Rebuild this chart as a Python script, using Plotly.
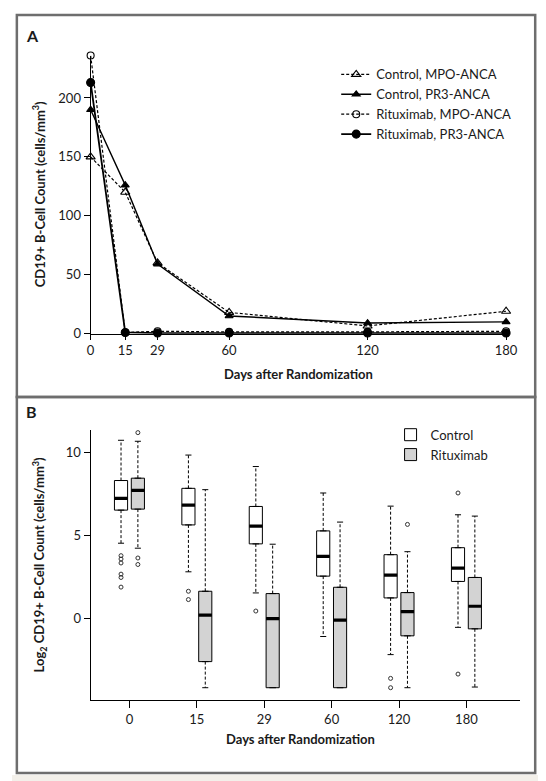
import plotly.graph_objects as go

W, H = 546, 781
FONT = "Lato"

# ---------------- Panel A data ----------------
days_a = [0, 15, 29, 60, 120, 180]
day_labels = ["0", "15", "29", "60", "120", "180"]
ctrl_mpo = [150, 120, 60, 18, 6.5, 19]
ctrl_pr3 = [190, 126, 59, 15, 9, 10]
rit_mpo = [236, 1, 2, 1.5, 1.5, 2]
rit_pr3 = [213, 1, 0.5, 0.5, 0.5, 0.5]
series_a_names = ["Control, MPO-ANCA", "Control, PR3-ANCA",
                  "Rituximab, MPO-ANCA", "Rituximab, PR3-ANCA"]

# ---------------- Panel B data (log2 counts) ----------------
ctrl_hi = [10.73, 9.84, 9.15, 7.56, 6.77, 6.25]
ctrl_q3 = [8.31, 7.84, 6.75, 5.28, 3.85, 4.27]
ctrl_med = [7.24, 6.83, 5.57, 3.75, 2.62, 3.04]
ctrl_q1 = [6.53, 5.64, 4.50, 2.56, 1.25, 2.24]
ctrl_lo = [4.54, 2.82, 1.55, -1.07, -2.16, -0.52]
ctrl_out = [[3.79, 3.59, 3.35, 2.68, 2.48, 1.9], [1.65, 1.15], [0.46], [],
            [-3.59, -4.15], [7.56, -3.33]]

rit_hi = [10.67, 7.76, 4.48, 5.81, 4.03, 6.17]
rit_q3 = [8.45, 1.65, 1.51, 1.89, 1.57, 2.48]
rit_med = [7.72, 0.22, 0.0, -0.08, 0.42, 0.75]
rit_q1 = [6.59, -2.58, -4.15, -4.15, -1.03, -0.61]
rit_lo = [4.24, -4.15, -4.15, -4.15, -4.15, -4.11]
rit_out = [[11.19, 3.65, 3.26], [], [], [], [5.67], []]

group_names = ["Control", "Rituximab"]


def px_x(p):
    return p / W


def px_y(p):
    return 1 - p / H


fig = go.Figure()

# ---------------- Panel A traces ----------------
styles = [
    dict(dash="3px,2px", width=1.2, symbol="triangle-up-open", size=8),
    dict(dash="solid", width=1.4, symbol="triangle-up", size=7),
    dict(dash="3px,2px", width=1.2, symbol="circle-open", size=7),
    dict(dash="solid", width=1.8, symbol="circle", size=8),
]
for name, vals, st in zip(series_a_names, [ctrl_mpo, ctrl_pr3, rit_mpo, rit_pr3], styles):
    fig.add_trace(go.Scatter(
        x=days_a, y=vals, name=name, mode="lines+markers",
        line=dict(color="black", width=st["width"], dash=st["dash"]),
        marker=dict(symbol=st["symbol"], size=st["size"], color="black",
                    line=dict(color="black", width=1.1)),
        cliponaxis=False, xaxis="x", yaxis="y", legend="legend",
    ))

# ---------------- Panel B traces ----------------
OFF = 0.125
BW = 0.195
CAP = 0.045
groups = [
    (ctrl_q1, ctrl_med, ctrl_q3, ctrl_lo, ctrl_hi, ctrl_out, -OFF, "white"),
    (rit_q1, rit_med, rit_q3, rit_lo, rit_hi, rit_out, OFF, "#d3d3d3"),
]
idx = list(range(len(day_labels)))

for gname, (q1, med, q3, lo, hi, out, off, fill) in zip(group_names, groups):
    pos = [i + off for i in idx]
    fig.add_trace(go.Box(
        x=pos, q1=q1, median=med, q3=q3, lowerfence=q1, upperfence=q3,
        width=BW, name=gname, fillcolor=fill,
        line=dict(color="black", width=1), boxpoints=False,
        xaxis="x2", yaxis="y2", legend="legend2", hoverinfo="skip",
    ))

for (q1, med, q3, lo, hi, out, off, fill) in groups:
    pos = [i + off for i in idx]
    wx, wy, cx, cy, mx, my, ox, oy = [], [], [], [], [], [], [], []
    for p, a, m, b, l, h, o in zip(pos, q1, med, q3, lo, hi, out):
        if h > b:
            wx += [p, p, None]; wy += [b, h, None]
            cx += [p - CAP, p + CAP, None]; cy += [h, h, None]
        if l < a:
            wx += [p, p, None]; wy += [a, l, None]
            cx += [p - CAP, p + CAP, None]; cy += [l, l, None]
        mx += [p - BW / 2, p + BW / 2, None]; my += [m, m, None]
        for v in o:
            ox.append(p); oy.append(v)
    fig.add_trace(go.Scatter(x=wx, y=wy, mode="lines", showlegend=False,
                             line=dict(color="black", width=1, dash="3px,2px"),
                             xaxis="x2", yaxis="y2", hoverinfo="skip"))
    fig.add_trace(go.Scatter(x=cx, y=cy, mode="lines", showlegend=False,
                             line=dict(color="black", width=1),
                             xaxis="x2", yaxis="y2", hoverinfo="skip"))
    fig.add_trace(go.Scatter(x=mx, y=my, mode="lines", showlegend=False,
                             line=dict(color="black", width=3.2),
                             xaxis="x2", yaxis="y2", hoverinfo="skip"))
    fig.add_trace(go.Scatter(x=ox, y=oy, mode="markers", showlegend=False,
                             marker=dict(symbol="circle-open", size=4, color="#333",
                                         line=dict(width=1)),
                             cliponaxis=False, xaxis="x2", yaxis="y2", hoverinfo="skip"))

axis_common = dict(showgrid=False, zeroline=False, showline=True, linecolor="black",
                   linewidth=1.2, ticks="outside", tickcolor="black", tickwidth=1.1,
                   tickfont=dict(family=FONT, size=13, color="#1a1a1a"), fixedrange=True)

fig.update_layout(
    width=W, height=H, margin=dict(l=0, r=0, t=0, b=0),
    paper_bgcolor="white", plot_bgcolor="white",
    font=dict(family=FONT, color="#1a1a1a"),
    xaxis=dict(domain=[px_x(81), px_x(509)], range=[0, 180], anchor="y",
               tickmode="array", tickvals=days_a, ticktext=day_labels, ticklen=5,
               **axis_common),
    yaxis=dict(domain=[px_y(329), px_y(48)], range=[0, 236], anchor="x",
               tickmode="array", tickvals=[0, 50, 100, 150, 200], ticklen=6,
               **axis_common),
    xaxis2=dict(domain=[px_x(81), px_x(523)], range=[-0.576, 5.79], anchor="y2",
                tickmode="array", tickvals=idx, ticktext=day_labels, ticklen=7,
                **axis_common),
    yaxis2=dict(domain=[px_y(699), px_y(426)], range=[-4.88, 11.37], anchor="x2",
                tickmode="array", tickvals=[0, 5, 10], ticklen=6,
                **axis_common),
    legend=dict(x=px_x(334), y=px_y(52), xanchor="left", yanchor="top",
                font=dict(family=FONT, size=13, color="#1a1a1a"),
                bgcolor="rgba(0,0,0,0)", itemwidth=30, tracegroupgap=0),
    legend2=dict(x=px_x(390), y=px_y(416), xanchor="left", yanchor="top",
                 font=dict(family=FONT, size=13, color="#1a1a1a"),
                 bgcolor="rgba(0,0,0,0)", itemwidth=30, tracegroupgap=0),
    showlegend=True,
)

title_font = dict(family=FONT, size=13, color="#1a1a1a")
annots = [
    dict(text="<b>A</b>", x=px_x(21), y=px_y(28), font=dict(family=FONT, size=16, color="#1a1a1a")),
    dict(text="<b>B</b>", x=px_x(20), y=px_y(408), font=dict(family=FONT, size=16, color="#1a1a1a")),
    dict(text="<b>CD19+ B-Cell Count (cells/mm<sup>3</sup>)</b>", x=px_x(27), y=px_y(188),
         textangle=-90, font=title_font),
    dict(text="<b>Days after Randomization</b>", x=px_x(295), y=px_y(370), font=title_font),
    dict(text="<b>Log<sub>2</sub> CD19+ B-Cell Count (cells/mm<sup>3</sup>)</b>", x=px_x(28),
         y=px_y(562), textangle=-90, font=title_font),
    dict(text="<b>Days after Randomization</b>", x=px_x(297), y=px_y(739), font=title_font),
]
for a in annots:
    fig.add_annotation(xref="paper", yref="paper", showarrow=False,
                       xanchor="center", yanchor="middle", **a)

# panel frames and bottom strip
fig.add_shape(type="rect", xref="paper", yref="paper", x0=0, x1=1, y0=0, y1=px_y(775),
              fillcolor="#f3f0ea", line=dict(width=0), layer="below")
for y0, y1 in [(7, 393), (393, 773)]:
    fig.add_shape(type="rect", xref="paper", yref="paper",
                  x0=px_x(5), x1=px_x(539), y0=px_y(y1), y1=px_y(y0),
                  line=dict(color="#6e6e6e", width=2.5), fillcolor="rgba(0,0,0,0)")

fig.write_html("out.html")
